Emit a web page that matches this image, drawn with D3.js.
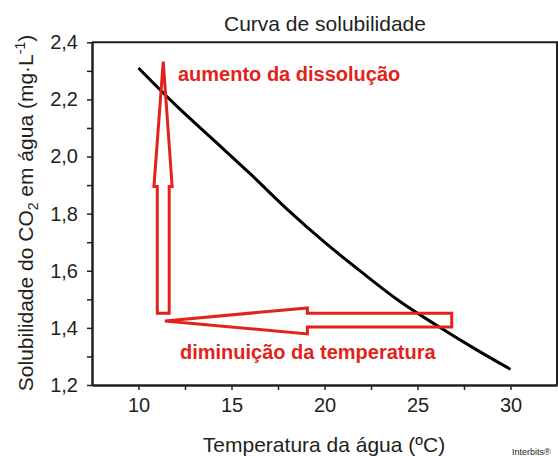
<!DOCTYPE html>
<html><head><meta charset="utf-8">
<script src="https://cdn.jsdelivr.net/npm/d3@7"></script>
<style>body{margin:0;background:#fff}svg{display:block}text{font-family:"Liberation Sans",Arial,sans-serif}</style>
</head><body><svg id="c" width="558" height="456"></svg>
<script>
// Data
const temps = [10, 12, 14, 16, 18, 20, 22, 24, 26, 28, 30];
const solubility = [2.31, 2.18, 2.06, 1.94, 1.815, 1.70, 1.595, 1.495, 1.41, 1.33, 1.255];
const xTicks = [10, 15, 20, 25, 30];
const xMinorTicks = [12.5, 17.5, 22.5, 27.5];
const yTicks = [1.2, 1.4, 1.6, 1.8, 2.0, 2.2, 2.4];
const yMinorTicks = [1.3, 1.5, 1.7, 1.9, 2.1, 2.3];
// annotation arrows in data units [temperature, solubility]
const arrowUp = [[11.33, 2.332], [11.81, 1.895], [11.65, 1.895], [11.65, 1.451], [11.01, 1.451], [11.01, 1.895], [10.83, 1.895]];
const arrowLeft = [[11.42, 1.424], [19.08, 1.47], [19.08, 1.451], [26.84, 1.451], [26.84, 1.403], [19.08, 1.403], [19.08, 1.379]];
const labelUp = {t: 11.7, s: 2.3, text: "aumento da dissolução"};
const labelLeft = {t: 11.8, s: 1.32, text: "diminuição da temperatura"};

const svg = d3.select("#c");
const L = 92, R = 557, T = 42.3, B = 385;
const x = d3.scaleLinear().domain([7.5, 32.5]).range([L, R]);
const y = d3.scaleLinear().domain([1.2, 2.4]).range([B, T]);
const fmt = d => d3.format(".1f")(d).replace(".", ",");
const axisColor = "#231f20";
const red = "#e2231a";

// frame (top & right)
svg.append("path").attr("d", `M${L},${T}H${R}V${B}`).attr("fill", "none").attr("stroke", axisColor).attr("stroke-width", 2);

// axes
const gx = svg.append("g").attr("transform", `translate(0,${B})`)
  .call(d3.axisBottom(x).tickValues(xTicks).tickSize(5).tickSizeOuter(0).tickPadding(8).tickFormat(d3.format("d")));
const gxm = svg.append("g").attr("transform", `translate(0,${B})`)
  .call(d3.axisBottom(x).tickValues(xMinorTicks).tickSize(5).tickSizeOuter(0).tickFormat(""));
const gy = svg.append("g").attr("transform", `translate(${L},0)`)
  .call(d3.axisLeft(y).tickValues(yTicks).tickSize(5).tickSizeOuter(0).tickPadding(9).tickFormat(fmt));
const gym = svg.append("g").attr("transform", `translate(${L},0)`)
  .call(d3.axisLeft(y).tickValues(yMinorTicks).tickSize(5).tickSizeOuter(0).tickFormat(""));
[gx, gxm, gy, gym].forEach(g => {
  g.selectAll("path.domain").attr("stroke", axisColor).attr("stroke-width", 2);
  g.selectAll("line").attr("stroke", axisColor).attr("stroke-width", 1.5);
  g.selectAll("text").attr("font-size", 20).attr("fill", "#231f20").attr("font-family", "Liberation Sans, Arial, sans-serif");
});

// curve
svg.append("path")
  .datum(temps.map((t, i) => [t, solubility[i]]))
  .attr("fill", "none").attr("stroke", "#000").attr("stroke-width", 3)
  .attr("d", d3.line().x(d => x(d[0])).y(d => y(d[1])).curve(d3.curveMonotoneX));

// arrows
[arrowUp, arrowLeft].forEach(a => {
  svg.append("path")
    .attr("d", d3.line().x(d => x(d[0])).y(d => y(d[1]))(a) + "Z")
    .attr("fill", "none").attr("stroke", red).attr("stroke-width", 3).attr("stroke-linejoin", "miter");
});

// red labels
svg.append("text").attr("x", 178).attr("y", 81).attr("font-size", 20).attr("font-weight", "bold").attr("fill", red).text(labelUp.text);
svg.append("text").attr("x", 180).attr("y", 358.5).attr("font-size", 20).attr("font-weight", "bold").attr("fill", red).text(labelLeft.text);

// title
svg.append("text").attr("x", 325).attr("y", 30.5).attr("text-anchor", "middle").attr("font-size", 21).attr("fill", "#231f20").text("Curva de solubilidade");

// x label
svg.append("text").attr("x", 324).attr("y", 452).attr("text-anchor", "middle").attr("font-size", 21).attr("fill", "#231f20").text("Temperatura da água (ºC)");

// y label
const yl = svg.append("text").attr("transform", "translate(33,213) rotate(-90)").attr("text-anchor", "middle").attr("font-size", 21).attr("fill", "#231f20");
yl.append("tspan").text("Solubilidade do CO");
yl.append("tspan").attr("font-size", 14).attr("dy", 5).text("2");
yl.append("tspan").attr("dy", -5).text(" em água (mg·L");
yl.append("tspan").attr("font-size", 14).attr("dy", -8).text("-1");
yl.append("tspan").attr("dy", 8).text(")");

// credit
svg.append("text").attr("x", 512).attr("y", 455).attr("font-size", 9).attr("fill", "#231f20").text("Interbits®");
</script></body></html>
